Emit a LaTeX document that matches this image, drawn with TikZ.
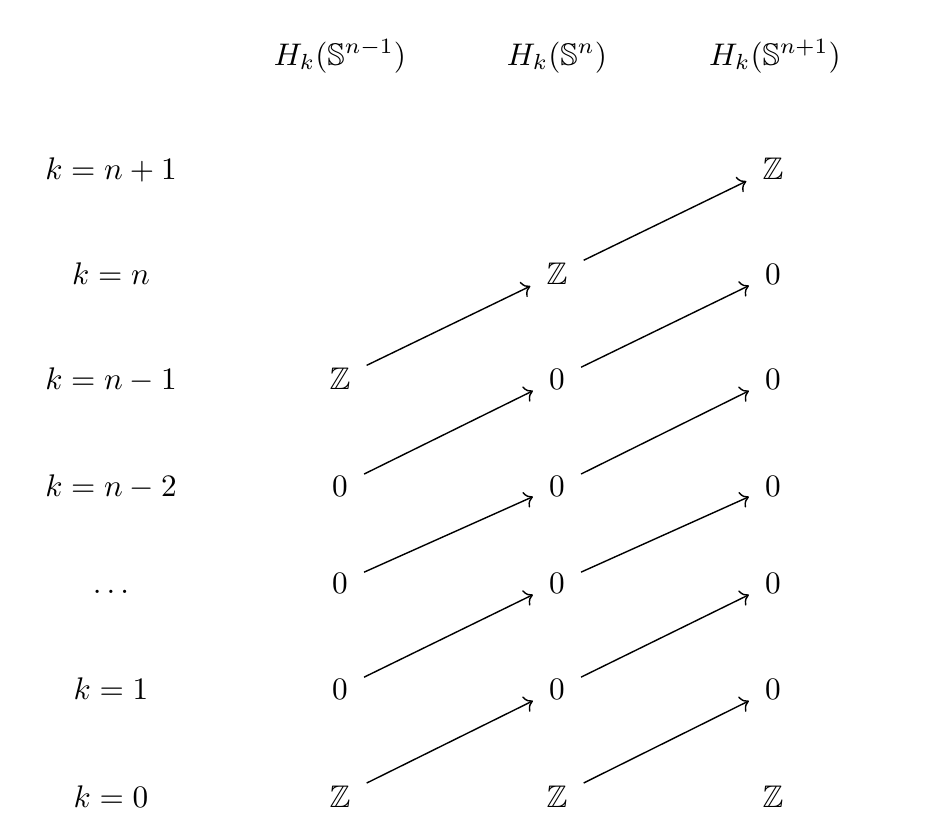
\documentclass[tikz,border=0pt]{standalone}
\usepackage{amsmath}
\usepackage{amssymb}
\usetikzlibrary{arrows,arrows.meta,positioning}

\begin{document}
\begin{tikzpicture}[x=0.32pt,y=-0.32pt]
        \tikzstyle{every node}+=[anchor=base]
        \tikzstyle{grp}=[inner sep=5pt]
        \tikzstyle{map}=[-{Computer Modern Rightarrow}, line width=0.45pt]
        \useasboundingbox (0,0) rectangle (938,828);
        % headings
        \node (h1) at (340,65) {$H_k(\mathbb{S}^{n-1})$};
        \node (h2) at (557,65) {$H_k(\mathbb{S}^{n})$};
        \node (h3) at (775,65) {$H_k(\mathbb{S}^{n+1})$};
        % degrees
        \node (l6) at (111,179) {$k=n+1$};
        \node (l5) at (111,284) {$k=n$};
        \node (l4) at (111,389) {$k=n-1$};
        \node (l3) at (111,496) {$k=n-2$};
        \node (l2) at (111,593) {$\ldots$};
        \node (l1) at (111,699) {$k=1$};
        \node (l0) at (111,807) {$k=0$};
        % first column
        \node[grp] (a4) at (340,389) {$\mathbb{Z}$};
        \node[grp] (a3) at (340,496) {$0$};
        \node[grp] (a2) at (340,593) {$0$};
        \node[grp] (a1) at (340,699) {$0$};
        \node[grp] (a0) at (340,807) {$\mathbb{Z}$};
        % second column
        \node[grp] (b5) at (557,284) {$\mathbb{Z}$};
        \node[grp] (b4) at (557,389) {$0$};
        \node[grp] (b3) at (557,496) {$0$};
        \node[grp] (b2) at (557,593) {$0$};
        \node[grp] (b1) at (557,699) {$0$};
        \node[grp] (b0) at (557,807) {$\mathbb{Z}$};
        % third column
        \node[grp] (c6) at (773,179) {$\mathbb{Z}$};
        \node[grp] (c5) at (773,284) {$0$};
        \node[grp] (c4) at (773,389) {$0$};
        \node[grp] (c3) at (773,496) {$0$};
        \node[grp] (c2) at (773,593) {$0$};
        \node[grp] (c1) at (773,699) {$0$};
        \node[grp] (c0) at (773,807) {$\mathbb{Z}$};
        % maps
        \foreach \i/\j in {0/1,1/2,2/3,3/4,4/5}
                \draw[map] (a\i) -- (b\j);
        \foreach \i/\j in {0/1,1/2,2/3,3/4,4/5,5/6}
                \draw[map] (b\i) -- (c\j);
\end{tikzpicture}
\end{document}
